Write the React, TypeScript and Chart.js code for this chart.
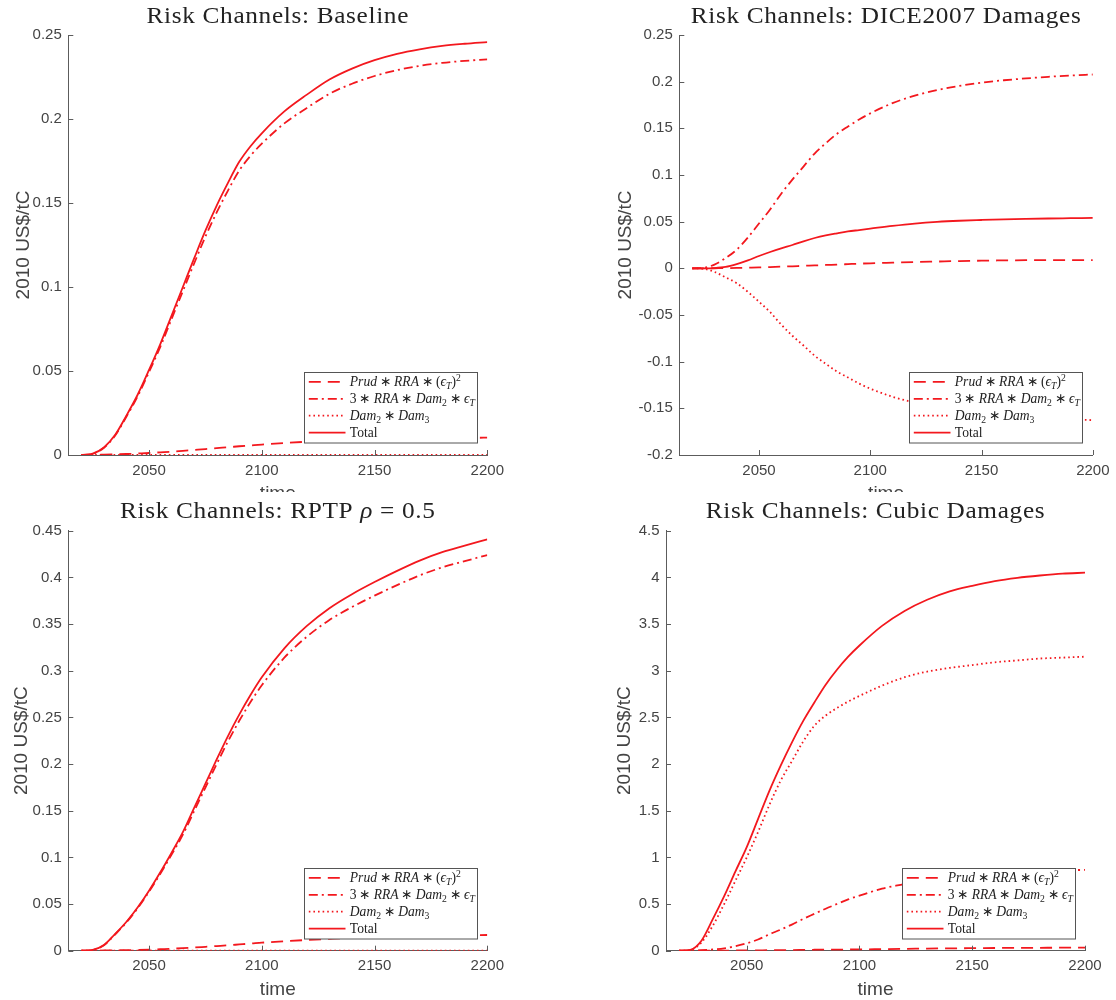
import React, { useEffect, useRef } from "react";
import { Chart, registerables } from "chart.js";
Chart.register(...registerables);

// ---------- data ----------
const years = [2020, 2025, 2030, 2035, 2040, 2045, 2050, 2055, 2060, 2065, 2070, 2075, 2080, 2085, 2090, 2095, 2100, 2110, 2120, 2130, 2140, 2150, 2160, 2170, 2180, 2190, 2200];

const xTicks = [2050, 2100, 2150, 2200];
const xTickLabels = ["2050", "2100", "2150", "2200"];

// Baseline
const baselinePrud = [0, 0.0001, 0.0002, 0.0004, 0.0006, 0.0009, 0.0012, 0.0016, 0.002, 0.0025, 0.003, 0.0035, 0.0041, 0.0046, 0.0052, 0.0057, 0.0062, 0.0071, 0.0079, 0.0085, 0.009, 0.0094, 0.0097, 0.0099, 0.0101, 0.0102, 0.0103];
const baselineRisk = [0, 0.0007, 0.0043, 0.0116, 0.0229, 0.0351, 0.0494, 0.0644, 0.081, 0.0975, 0.114, 0.13, 0.1444, 0.1574, 0.1693, 0.1781, 0.1853, 0.1974, 0.2066, 0.215, 0.221, 0.2256, 0.2291, 0.2316, 0.2334, 0.2346, 0.2355];
const baselineDam = [0, 0, 0, 0, 0, 0, 0, 0, 0, 0, 0, 0, 0, 0, 0, 0, 0, 0, 0, 0, 0, 0, 0, 0, 0, 0, 0];
const baselineTotal = [0, 0.0008, 0.0045, 0.012, 0.0235, 0.036, 0.0506, 0.066, 0.083, 0.1, 0.117, 0.1335, 0.1485, 0.162, 0.1745, 0.1838, 0.1915, 0.2045, 0.2145, 0.2235, 0.23, 0.235, 0.2388, 0.2415, 0.2435, 0.2448, 0.2458];
const baselineYTicks = [0, 0.05, 0.1, 0.15, 0.2, 0.25];
const baselineYLabels = ["0", "0.05", "0.1", "0.15", "0.2", "0.25"];

// DICE2007
const dicePrud = [0, 0, 0.0001, 0.0002, 0.0004, 0.0007, 0.001, 0.0014, 0.0018, 0.0022, 0.0027, 0.0031, 0.0036, 0.004, 0.0045, 0.005, 0.0054, 0.0061, 0.0068, 0.0073, 0.0078, 0.0082, 0.0085, 0.0087, 0.0088, 0.0089, 0.0089];
const diceRisk = [0, 0.0005, 0.004, 0.011, 0.02, 0.033, 0.048, 0.063, 0.08, 0.095, 0.109, 0.123, 0.134, 0.144, 0.152, 0.1595, 0.166, 0.177, 0.185, 0.191, 0.1955, 0.199, 0.2015, 0.2035, 0.2052, 0.2066, 0.2077];
const diceDam = [0, -0.0005, -0.0038, -0.0097, -0.0159, -0.0252, -0.0358, -0.0469, -0.0603, -0.0722, -0.0827, -0.0936, -0.1023, -0.1105, -0.117, -0.1235, -0.1289, -0.1376, -0.1438, -0.1485, -0.1523, -0.1554, -0.1575, -0.1592, -0.1606, -0.1618, -0.1626];
const diceTotal = [0, 0, 0.0003, 0.0015, 0.0045, 0.0085, 0.0132, 0.0175, 0.0215, 0.025, 0.029, 0.0325, 0.0353, 0.0375, 0.0395, 0.041, 0.0425, 0.0455, 0.048, 0.0498, 0.051, 0.0518, 0.0525, 0.053, 0.0534, 0.0537, 0.054];
const diceYTicks = [-0.2, -0.15, -0.1, -0.05, 0, 0.05, 0.1, 0.15, 0.2, 0.25];
const diceYLabels = ["-0.2", "-0.15", "-0.1", "-0.05", "0", "0.05", "0.1", "0.15", "0.2", "0.25"];

// RPTP rho = 0.5
const rptpPrud = [0, 0.0001, 0.0002, 0.0004, 0.0006, 0.0008, 0.0011, 0.0016, 0.0021, 0.0027, 0.0034, 0.0042, 0.005, 0.0058, 0.0067, 0.0076, 0.0086, 0.0101, 0.0115, 0.0127, 0.0138, 0.0146, 0.0153, 0.0159, 0.0163, 0.0166, 0.0168];
const rptpRisk = [0, 0.0007, 0.0058, 0.0176, 0.0304, 0.0457, 0.0632, 0.0824, 0.1029, 0.1243, 0.1496, 0.1748, 0.2, 0.2242, 0.2463, 0.2664, 0.2844, 0.3139, 0.3365, 0.3543, 0.3682, 0.3804, 0.3917, 0.4021, 0.4107, 0.4174, 0.4239];
const rptpDam = [0, 0, 0, 0, 0, 0, 0, 0, 0, 0, 0, 0, 0, 0, 0, 0, 0, 0, 0, 0, 0, 0, 0, 0, 0, 0, 0];
const rptpTotal = [0, 0.0008, 0.006, 0.018, 0.031, 0.0465, 0.0643, 0.084, 0.105, 0.127, 0.153, 0.179, 0.205, 0.23, 0.253, 0.274, 0.293, 0.324, 0.348, 0.367, 0.382, 0.395, 0.407, 0.418, 0.427, 0.434, 0.4407];
const rptpYTicks = [0, 0.05, 0.1, 0.15, 0.2, 0.25, 0.3, 0.35, 0.4, 0.45];
const rptpYLabels = ["0", "0.05", "0.1", "0.15", "0.2", "0.25", "0.3", "0.35", "0.4", "0.45"];

// Cubic damages
const cubicPrud = [0, 0.0002, 0.0005, 0.001, 0.0015, 0.002, 0.003, 0.004, 0.005, 0.006, 0.007, 0.0085, 0.01, 0.011, 0.012, 0.013, 0.014, 0.017, 0.02, 0.023, 0.025, 0.027, 0.029, 0.03, 0.031, 0.032, 0.032];
const cubicRisk = [0, 0.001, 0.005, 0.013, 0.025, 0.048, 0.079, 0.12, 0.175, 0.225, 0.28, 0.34, 0.395, 0.45, 0.5, 0.55, 0.59, 0.665, 0.715, 0.77, 0.81, 0.835, 0.85, 0.858, 0.862, 0.864, 0.865];
const cubicDam = [0, 0.008, 0.09, 0.27, 0.5, 0.75, 1.0, 1.27, 1.56, 1.82, 2.03, 2.24, 2.41, 2.52, 2.6, 2.67, 2.73, 2.84, 2.93, 2.99, 3.03, 3.06, 3.09, 3.11, 3.13, 3.14, 3.15];
const cubicTotal = [0, 0.01, 0.11, 0.34, 0.585, 0.85, 1.11, 1.41, 1.71, 1.98, 2.23, 2.46, 2.66, 2.85, 3.01, 3.15, 3.27, 3.48, 3.64, 3.76, 3.85, 3.91, 3.96, 3.995, 4.02, 4.04, 4.05];
const cubicYTicks = [0, 0.5, 1, 1.5, 2, 2.5, 3, 3.5, 4, 4.5];
const cubicYLabels = ["0", "0.5", "1", "1.5", "2", "2.5", "3", "3.5", "4", "4.5"];

// ---------- text ----------
type Run = { t: string; it?: boolean; sub?: boolean; sup?: boolean };

const titleBaseline: Run[] = [{ t: "Risk Channels: Baseline" }];
const titleDice: Run[] = [{ t: "Risk Channels: DICE2007 Damages" }];
const titleRptp: Run[] = [{ t: "Risk Channels: RPTP " }, { t: "ρ", it: true }, { t: " = 0.5" }];
const titleCubic: Run[] = [{ t: "Risk Channels: Cubic Damages" }];

const TS = "\u2009";
const legendPrud: Run[] = [
  { t: "Prud", it: true }, { t: TS + "∗" + TS }, { t: "RRA", it: true }, { t: TS + "∗" + TS }, { t: "(" },
  { t: "ϵ", it: true }, { t: "T", it: true, sub: true }, { t: ")" }, { t: "2", sup: true },
];
const legendRisk: Run[] = [
  { t: "3" + TS + "∗" + TS }, { t: "RRA", it: true }, { t: TS + "∗" + TS }, { t: "Dam", it: true }, { t: "2", sub: true },
  { t: TS + "∗" + TS }, { t: "ϵ", it: true }, { t: "T", it: true, sub: true },
];
const legendDam: Run[] = [{ t: "Dam", it: true }, { t: "2", sub: true }, { t: TS + "∗" + TS }, { t: "Dam", it: true }, { t: "3", sub: true }];
const legendTotal: Run[] = [{ t: "Total" }];

const yLabelText = "2010 US$/tC";
const xLabelText = "time";

// ---------- styling ----------
const RED = "rgb(243,24,30)";
const AXIS = "#5c5c5c";
const TEXT = "#444444";
const SANS = "'Liberation Sans', Arial, sans-serif";
const SERIF = "'Liberation Serif', 'Times New Roman', serif";
const DASHES: number[][] = [[12, 7], [9, 4, 2, 4], [1.6, 3], []];
const X_MIN = 2014.2;
const X_MAX = 2200;

type Panel = {
  left: number; top: number; w: number; h: number;
  pad: { left: number; right: number; top: number; bottom: number };
  yMin: number; yMax: number; yTicks: number[]; yLabels: string[];
  title: Run[]; ylabOffset: number;
  series: number[][];
};

const Y_AXIS_W = 60;
const X_AXIS_H = 30;

const panels: Panel[] = [
  {
    left: 0, top: 0, w: 558, h: 492,
    pad: { left: 8.3, right: 70.7, top: 35, bottom: 7 },
    yMin: 0, yMax: 0.25, yTicks: baselineYTicks, yLabels: baselineYLabels,
    title: titleBaseline, ylabOffset: 45,
    series: [baselinePrud, baselineRisk, baselineDam, baselineTotal],
  },
  {
    left: 558, top: 0, w: 558, h: 492,
    pad: { left: 61.3, right: 18.7, top: 35, bottom: 7 },
    yMin: -0.2, yMax: 0.25, yTicks: diceYTicks, yLabels: diceYLabels,
    title: titleDice, ylabOffset: 54,
    series: [dicePrud, diceRisk, diceDam, diceTotal],
  },
  {
    left: 0, top: 492, w: 558, h: 508,
    pad: { left: 8.3, right: 70.7, top: 38.7, bottom: 19.3 },
    yMin: 0, yMax: 0.45, yTicks: rptpYTicks, yLabels: rptpYLabels,
    title: titleRptp, ylabOffset: 47,
    series: [rptpPrud, rptpRisk, rptpDam, rptpTotal],
  },
  {
    left: 558, top: 492, w: 558, h: 508,
    pad: { left: 48, right: 31, top: 38.7, bottom: 19.3 },
    yMin: 0, yMax: 4.5, yTicks: cubicYTicks, yLabels: cubicYLabels,
    title: titleCubic, ylabOffset: 41,
    series: [cubicPrud, cubicRisk, cubicDam, cubicTotal],
  },
];

const legendRuns: Run[][] = [legendPrud, legendRisk, legendDam, legendTotal];
const seriesNames = ["Prud*RRA*(eps_T)^2", "3*RRA*Dam2*eps_T", "Dam2*Dam3", "Total"];

function runFont(r: Run, size: number, family: string) {
  const s = r.sub || r.sup ? Math.round(size * 0.7) : size;
  return `${r.it ? "italic " : ""}${s}px ${family}`;
}

function drawRuns(
  ctx: CanvasRenderingContext2D, runs: Run[], x: number, y: number, size: number, family: string,
  align: "left" | "center", sx = 1, spacing = 0,
) {
  ctx.save();
  ctx.textAlign = "left";
  ctx.textBaseline = "alphabetic";
  (ctx as any).letterSpacing = `${spacing}px`;
  let total = 0;
  for (const r of runs) {
    ctx.font = runFont(r, size, family);
    total += ctx.measureText(r.t).width;
  }
  const startX = align === "center" ? x - (total * sx) / 2 : x;
  ctx.translate(startX, y);
  ctx.scale(sx, 1);
  let cx = 0;
  for (const r of runs) {
    ctx.font = runFont(r, size, family);
    const dy = r.sub ? size * 0.22 : r.sup ? -size * 0.4 : 0;
    ctx.fillText(r.t, cx, dy);
    cx += ctx.measureText(r.t).width;
  }
  ctx.restore();
}

function makeDecor(p: Panel) {
  return {
    id: "decor",
    afterDatasetsDraw(chart: any) {
      const ctx: CanvasRenderingContext2D = chart.ctx;
      const a = chart.chartArea;
      // inward ticks
      ctx.save();
      ctx.strokeStyle = AXIS;
      ctx.lineWidth = 1;
      const xs = chart.scales.x;
      const ys = chart.scales.y;
      for (const v of xTicks) {
        const px = Math.round(xs.getPixelForValue(v)) + 0.5;
        ctx.beginPath();
        ctx.moveTo(px, a.bottom);
        ctx.lineTo(px, a.bottom - 5);
        ctx.stroke();
      }
      for (const v of p.yTicks) {
        const py = Math.round(ys.getPixelForValue(v)) + 0.5;
        ctx.beginPath();
        ctx.moveTo(a.left, py);
        ctx.lineTo(a.left + 5, py);
        ctx.stroke();
      }
      ctx.restore();

      // legend
      const bw = 173;
      const bh = 70.5;
      const bx = Math.round(a.right - 10.5 - bw) + 0.5;
      const by = Math.round(a.bottom - 12.5 - bh) + 0.5;
      ctx.save();
      ctx.fillStyle = "#ffffff";
      ctx.fillRect(bx, by, bw, bh);
      ctx.strokeStyle = "#555555";
      ctx.lineWidth = 1;
      ctx.strokeRect(bx, by, bw, bh);
      for (let i = 0; i < 4; i++) {
        const cy = by + 9.4 + i * 16.9;
        ctx.save();
        ctx.strokeStyle = RED;
        ctx.lineWidth = 1.8;
        ctx.setLineDash(DASHES[i]);
        ctx.beginPath();
        ctx.moveTo(bx + 4.3, cy);
        ctx.lineTo(bx + 41, cy);
        ctx.stroke();
        ctx.restore();
        ctx.fillStyle = "#222222";
        drawRuns(ctx, legendRuns[i], bx + 45.3, cy + 4.5, 14, SERIF, "left", 0.97, 0);
      }
      ctx.restore();
    },
    afterDraw(chart: any) {
      const ctx: CanvasRenderingContext2D = chart.ctx;
      const a = chart.chartArea;
      const cxm = (a.left + a.right) / 2;
      ctx.save();
      ctx.fillStyle = "#222222";
      drawRuns(ctx, p.title, cxm, a.top - 12.5, 23, SERIF, "center", 1.1, 0.6);
      ctx.fillStyle = TEXT;
      ctx.font = `19px ${SANS}`;
      ctx.textAlign = "center";
      ctx.textBaseline = "alphabetic";
      ctx.fillText(xLabelText, cxm, a.bottom + 44.3);
      ctx.translate(a.left - p.ylabOffset, (a.top + a.bottom) / 2);
      ctx.rotate(-Math.PI / 2);
      ctx.textBaseline = "middle";
      ctx.fillText(yLabelText, 0, 0);
      ctx.restore();
    },
  };
}

function PanelChart({ p }: { p: Panel }) {
  const ref = useRef<HTMLCanvasElement>(null);
  useEffect(() => {
    if (!ref.current) return;
    const chart = new Chart(ref.current, {
      type: "line",
      data: {
        datasets: p.series.map((vals, i) => ({
          label: seriesNames[i],
          data: years.map((x, j) => ({ x, y: vals[j] })),
          borderColor: RED,
          backgroundColor: RED,
          borderWidth: 1.8,
          borderDash: DASHES[i],
          pointRadius: 0,
          fill: false,
          cubicInterpolationMode: "monotone",
        })),
      },
      options: {
        responsive: false,
        animation: false,
        devicePixelRatio: 1,
        layout: { padding: p.pad },
        plugins: {
          legend: { display: false },
          title: { display: false },
          tooltip: { enabled: false },
        },
        scales: {
          x: {
            type: "linear",
            min: X_MIN,
            max: X_MAX,
            afterBuildTicks: (s: any) => {
              s.ticks = xTicks.map((v) => ({ value: v }));
            },
            afterFit: (s: any) => {
              s.height = X_AXIS_H;
            },
            grid: { display: false, drawTicks: false },
            border: { display: true, color: AXIS, width: 1 },
            ticks: {
              autoSkip: false,
              maxRotation: 0,
              padding: 6.5,
              color: TEXT,
              font: { family: SANS, size: 15 },
              callback: (v: any) => xTickLabels[xTicks.indexOf(Number(v))] ?? "",
            },
          },
          y: {
            type: "linear",
            min: p.yMin,
            max: p.yMax,
            afterBuildTicks: (s: any) => {
              s.ticks = p.yTicks.map((v) => ({ value: v }));
            },
            afterFit: (s: any) => {
              s.width = Y_AXIS_W;
            },
            grid: { display: false, drawTicks: false },
            border: { display: true, color: AXIS, width: 1 },
            ticks: {
              autoSkip: false,
              padding: 6.5,
              color: TEXT,
              font: { family: SANS, size: 15 },
              callback: (v: any) => {
                const idx = p.yTicks.findIndex((t) => Math.abs(t - Number(v)) < 1e-9);
                return idx >= 0 ? p.yLabels[idx] : "";
              },
            },
          },
        },
      },
      plugins: [makeDecor(p)],
    } as any);
    return () => chart.destroy();
  }, [p]);
  return (
    <canvas
      ref={ref}
      width={p.w}
      height={p.h}
      style={{ position: "absolute", left: p.left, top: p.top, width: p.w, height: p.h, background: "#fff" }}
    />
  );
}

export default function App() {
  return (
    <div style={{ position: "absolute", left: 0, top: 0, width: 1116, height: 1000, background: "#ffffff", overflow: "hidden" }}>
      {panels.map((p, i) => (
        <PanelChart key={i} p={p} />
      ))}
    </div>
  );
}
